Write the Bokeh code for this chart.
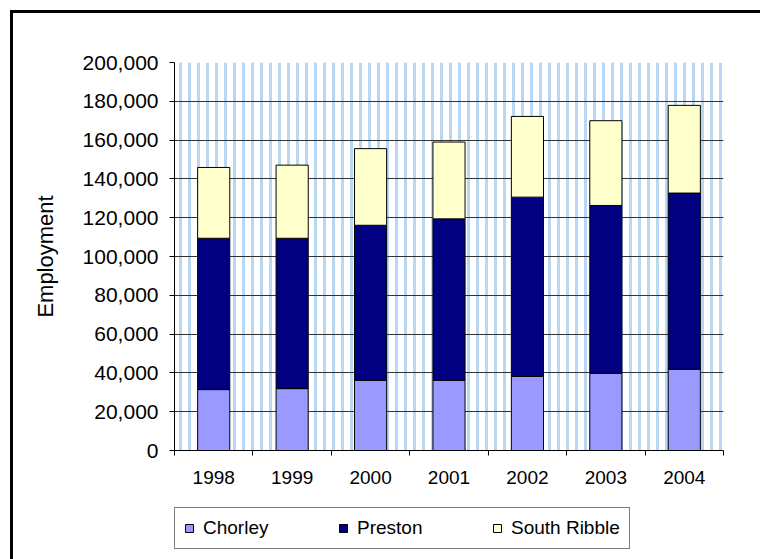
import numpy as np
from bokeh.plotting import figure
from bokeh.layouts import column
from bokeh.models import (ColumnDataSource, Range1d, FixedTicker, NumeralTickFormatter,
                          BoxAnnotation, Legend, LegendItem)
from bokeh.embed import file_html
from bokeh.resources import INLINE

# Employment by district, stacked per year
years = ["1998", "1999", "2000", "2001", "2002", "2003", "2004"]
chorley = [31400, 31900, 36200, 36200, 38200, 39800, 41900]
preston = [78000, 77500, 79900, 83200, 92400, 86500, 90800]
south_ribble = [36500, 37700, 39500, 39600, 41600, 43700, 45200]

series = ["Chorley", "Preston", "South Ribble"]
colors = ["#9999FF", "#000080", "#FFFFCC"]
y_ticks = list(range(0, 200001, 20000))

FONT = "Liberation Sans"
stack_fields = ["chorley", "preston", "south_ribble"]

x = np.arange(len(years)) + 0.5
source = ColumnDataSource(dict(x=x, chorley=chorley, preston=preston,
                               south_ribble=south_ribble))

# main chart
p = figure(frame_width=549, frame_height=388,
           x_range=Range1d(0, len(years)), y_range=Range1d(0, 200000),
           output_backend="svg", toolbar_location=None,
           min_border_left=161, min_border_right=37,
           min_border_top=49, min_border_bottom=46,
           outline_line_color=None,
           background_fill_color="white", border_fill_color="white")

# patterned plot-area background
pattern = BoxAnnotation(level="image", fill_color="white", fill_alpha=1.0,
                        line_alpha=0, hatch_pattern="vertical_line",
                        hatch_color="#b0d3f2", hatch_scale=9, hatch_weight=3,
                        hatch_alpha=0.9)
p.add_layout(pattern)

p.vbar_stack(stack_fields, x="x", width=0.41, source=source, fill_color=colors,
             line_color="black", line_width=1)

# grid
p.xgrid.visible = False
p.ygrid.ticker = FixedTicker(ticks=y_ticks)
p.ygrid.grid_line_color = "#333333"
p.ygrid.grid_line_width = 1

# y axis
yax = p.yaxis[0]
yax.ticker = FixedTicker(ticks=y_ticks, minor_ticks=[])
yax.formatter = NumeralTickFormatter(format="0,0")
yax.axis_label = "Employment"
yax.axis_label_text_font = FONT
yax.axis_label_text_font_size = "22px"
yax.axis_label_text_font_style = "normal"
yax.axis_label_text_color = "black"
yax.axis_label_standoff = 22
yax.major_label_text_font = FONT
yax.major_label_text_font_size = "21px"
yax.major_label_text_color = "black"
yax.major_label_standoff = 11
yax.major_tick_out = 5
yax.major_tick_in = 0
yax.major_tick_line_color = "black"
yax.axis_line_color = "black"

# x axis: labels at bar centres, ticks at category boundaries
xax = p.xaxis[0]
xax.ticker = FixedTicker(ticks=list(x), minor_ticks=list(range(len(years) + 1)))
xax.major_label_overrides = {float(xi): yr for xi, yr in zip(x, years)}
xax.major_tick_out = 0
xax.major_tick_in = 0
xax.minor_tick_out = 5
xax.minor_tick_in = 0
xax.minor_tick_line_color = "black"
xax.axis_line_color = "black"
xax.major_label_text_font = FONT
xax.major_label_text_font_size = "19px"
xax.major_label_text_color = "black"
xax.major_label_standoff = 15

# legend strip under the chart; its hidden stack only supplies the swatches
key = figure(width=747, height=63, x_range=Range1d(0, len(years)), y_range=Range1d(0, 200000),
             x_axis_location=None, y_axis_location=None, min_border=0,
             outline_line_color=None, toolbar_location=None, output_backend="svg",
             background_fill_color="white", border_fill_color="white")
key.xgrid.visible = False
key.ygrid.visible = False
swatches = key.vbar_stack(stack_fields, x="x", width=0.41, source=source,
                          fill_color=colors, line_color="black", line_width=1)
for r in swatches:
    r.visible = False

legend = Legend(items=[LegendItem(label=s, renderers=[r]) for s, r in zip(series, swatches)],
                orientation="horizontal", location=(0, 10), padding=9, spacing=45,
                label_width=90, label_standoff=9, glyph_width=10, glyph_height=10,
                border_line_color="black", border_line_width=1,
                background_fill_color="white", margin=0,
                inactive_fill_alpha=0,
                label_text_font=FONT, label_text_font_size="19px",
                label_text_color="black")
key.add_layout(legend)

# black chart frame along the top and left
page = column(p, key, spacing=0,
              styles={"margin-left": "10px", "margin-top": "10px",
                      "border-left": "3px solid black", "border-top": "3px solid black"})

open("out.html", "w").write(file_html(page, INLINE))
